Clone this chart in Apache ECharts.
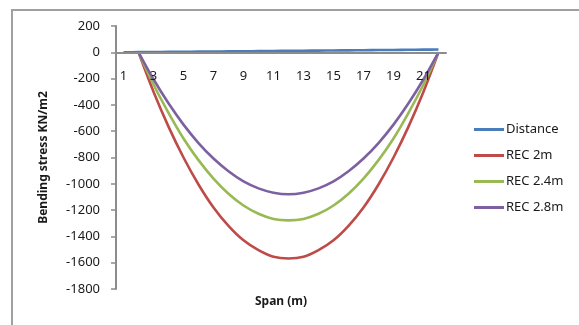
<!DOCTYPE html>
<html>
<head>
<meta charset="utf-8">
<script src="https://cdn.jsdelivr.net/npm/echarts@6/dist/echarts.min.js"></script>
<style>
  html, body { margin: 0; padding: 0; background: #fff; }
  #chart { width: 579px; height: 325px; }
</style>
</head>
<body>
<div id="chart"></div>
<script>
// Span stations along the beam
const categories = ['1','2','3','4','5','6','7','8','9','10','11','12','13','14','15','16','17','18','19','20','21','22'];

// Distance along the span (m)
const distance = [0, 1, 2, 3, 4, 5, 6, 7, 8, 9, 10, 11, 12, 13, 14, 15, 16, 17, 18, 19, 20, 21];

// Bending stress (KN/m2) for each rectangular section depth
const rec2m  = [null, 0, -300, -565, -800, -1005, -1180, -1320, -1430, -1505, -1555, -1568, -1555, -1505, -1430, -1320, -1180, -1005, -800, -565, -300, 0];
const rec24m = [null, 0, -245, -460, -655, -820, -960, -1075, -1165, -1228, -1267, -1278, -1267, -1228, -1165, -1075, -960, -820, -655, -460, -245, 0];
const rec28m = [null, 0, -205, -388, -550, -690, -808, -905, -982, -1035, -1068, -1080, -1068, -1035, -982, -905, -808, -690, -550, -388, -205, 0];

// Value axis range
const yMin = -1800, yMax = 200, yStep = 200;

const font = 'Noto Sans';
const txt = '#1a1a1a';
const axisGrey = '#8c8c8c';

// Plot box
const gridTop = 26, gridBottom = 36, chartH = 325;
const plotH = chartH - gridTop - gridBottom;
// Shift the category axis up so it sits on the zero line
const zeroOffset = -plotH * (0 - yMin) / (yMax - yMin);

const chart = echarts.init(document.getElementById('chart'), null, { renderer: 'canvas' });

function line(name, data, color) {
  return {
    name, type: 'line', data,
    showSymbol: false, symbol: 'none', smooth: 0.25,
    lineStyle: { color, width: 2.6 },
    itemStyle: { color },
    connectNulls: false,
    animation: false
  };
}

chart.setOption({
  animation: false,
  textStyle: { fontFamily: font },
  grid: { left: 116, right: 133, top: gridTop, bottom: gridBottom, containLabel: false },
  xAxis: {
    type: 'category',
    data: categories,
    boundaryGap: true,
    position: 'bottom',
    offset: zeroOffset,
    z: 5,
    axisLine: { onZero: false, lineStyle: { color: axisGrey, width: 2 } },
    axisTick: { show: false },
    axisLabel: { interval: 1, margin: 17, color: txt, fontSize: 13, fontFamily: font, hideOverlap: false },
    splitLine: { show: false }
  },
  yAxis: {
    type: 'value',
    min: yMin, max: yMax, interval: yStep,
    name: 'Bending stress KN/m2',
    nameLocation: 'middle',
    nameGap: 66,
    nameRotate: 90,
    nameTextStyle: { color: txt, fontSize: 12, fontWeight: 'bold', fontFamily: font },
    axisLine: { show: true, lineStyle: { color: axisGrey, width: 2 } },
    axisTick: { show: true, inside: false, length: 5, lineStyle: { color: axisGrey, width: 1.5 } },
    axisLabel: { margin: 16, color: txt, fontSize: 13, fontFamily: font, formatter: v => String(v) },
    splitLine: { show: false }
  },
  legend: {
    orient: 'vertical',
    left: 469, top: 118,
    itemWidth: 30, itemHeight: 3, itemGap: 13,
    icon: 'rect',
    textStyle: { color: txt, fontSize: 13, fontFamily: font, padding: [0, 0, 0, -3] },
    data: ['Distance', 'REC 2m', 'REC 2.4m', 'REC 2.8m']
  },
  graphic: [
    {
      type: 'rect', silent: true,
      shape: { x: 12, y: 10, width: 700, height: 500 },
      style: { fill: 'none', stroke: '#a0a0a0', lineWidth: 2 }
    },
    {
      type: 'text', silent: true,
      x: 281, y: 302,
      style: { text: 'Span (m)', fill: txt, font: 'bold 12px "Noto Sans"', textAlign: 'center', textVerticalAlign: 'middle' }
    }
  ],
  series: [
    line('Distance', distance, '#4a7ebb'),
    line('REC 2m', rec2m, '#be4b48'),
    line('REC 2.4m', rec24m, '#98b954'),
    line('REC 2.8m', rec28m, '#7d60a0')
  ]
});
</script>
</body>
</html>
